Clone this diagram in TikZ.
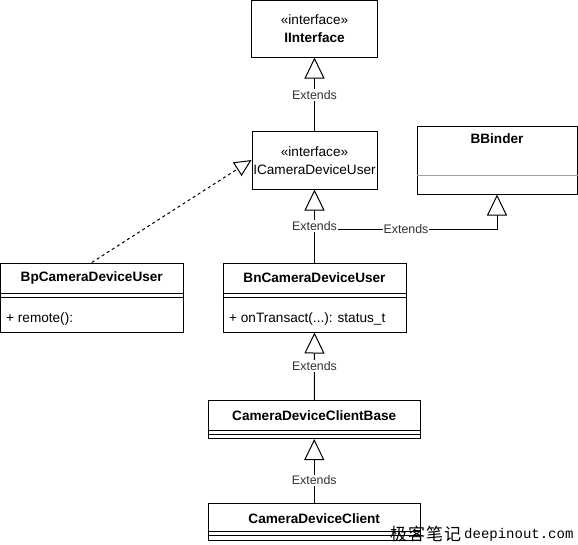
\documentclass[tikz,border=0pt]{standalone}
\usepackage{fontspec}
\setmainfont{Liberation Sans}
\newfontfamily\cjkwm{Noto Sans CJK SC}
\newfontfamily\monowm{Liberation Mono}
\usetikzlibrary{arrows.meta}
\definecolor{lblgray}{HTML}{333333}
\definecolor{sepgray}{HTML}{A0A0A0}
\tikzset{
  classbox/.style={draw=black, line width=1pt, inner sep=0pt, anchor=center},
  titletxt/.style={font=\fontsize{13.6}{16}\selectfont\bfseries, inner sep=0pt, anchor=center},
  plaintxt/.style={font=\fontsize{13.6}{16}\selectfont, inner sep=0pt, anchor=center},
  lbl/.style={font=\fontsize{12.4}{14}\selectfont, text=lblgray, fill=white, inner sep=1pt, anchor=center},
  ext/.style={draw=black, line width=1pt, -{Triangle[length=21pt,width=20pt,fill=white,line width=1pt]}},
  extline/.style={draw=black, line width=1pt},
  real/.style={draw=black, line width=1pt, dash pattern=on 3pt off 3pt, -{Triangle[length=17pt,width=16pt,fill=white,line width=1pt]}}
}
\begin{document}
\begin{tikzpicture}[x=1pt,y=-1pt]
\useasboundingbox (0,0) rectangle (578,544);
% boxes
\node[classbox, minimum width=126pt, minimum height=56.5pt] (ii) at (314.5,28.75) {};
\node[classbox, minimum width=125pt, minimum height=58pt] (icdu) at (314.5,160) {};
\node[classbox, minimum width=160pt, minimum height=68pt] (bb) at (497,160) {};
\node[classbox, minimum width=182.5pt, minimum height=69pt] (bp) at (91.75,297.5) {};
\node[classbox, minimum width=183pt, minimum height=69pt] (bn) at (314.5,297.5) {};
\node[classbox, minimum width=212.5pt, minimum height=38pt] (cdcb) at (314.25,419.5) {};
\node[classbox, minimum width=212.5pt, minimum height=37pt] (cdc) at (314.25,521.5) {};
% texts
\node[plaintxt] (iist) at (314.5,20) {«interface»};
\node[titletxt] (iit) at (314.5,37.5) {IInterface};
\node[plaintxt] (icdust) at (314.5,151.5) {«interface»};
\node[plaintxt] (icdut) at (314.5,169.5) {ICameraDeviceUser};
\node[titletxt] (bbt) at (497,138.5) {BBinder};
\draw[sepgray, line width=1pt] (bb.west |- 0,175) -- (bb.east |- 0,175);
\node[titletxt] (bpt) at (91.75,277.5) {BpCameraDeviceUser};
\draw[line width=1pt] (bp.west |- 0,293.3) -- (bp.east |- 0,293.3);
\draw[line width=1pt] (bp.west |- 0,297.7) -- (bp.east |- 0,297.7);
\node[plaintxt, anchor=west] (bpm) at (6,319) {+ remote():};
\node[titletxt] (bnt) at (314.5,277.5) {BnCameraDeviceUser};
\draw[line width=1pt] (bn.west |- 0,293.3) -- (bn.east |- 0,293.3);
\draw[line width=1pt] (bn.west |- 0,297.7) -- (bn.east |- 0,297.7);
\node[plaintxt, anchor=west] (bnm) at (229,319) {+ onTransact(...): status\_t};
\node[titletxt] (cdcbt) at (314.25,416) {CameraDeviceClientBase};
\draw[line width=1pt] (cdcb.west |- 0,430.2) -- (cdcb.east |- 0,430.2);
\draw[line width=1pt] (cdcb.west |- 0,434.4) -- (cdcb.east |- 0,434.4);
\node[titletxt] (cdct) at (314.25,519) {CameraDeviceClient};
\draw[line width=1pt] (cdc.west |- 0,531.2) -- (cdc.east |- 0,531.2);
\draw[line width=1pt] (cdc.west |- 0,535.2) -- (cdc.east |- 0,535.2);
% connectors
\draw[ext] (icdu.north) -- (ii.south);
\node[lbl] (l1) at (314.5,95) {Extends};
\coordinate (j) at (314.5,229);
\draw[extline] (bn.north) -- (j);
\draw[ext] (bn.north) -- (icdu.south);
\draw[ext] (j) -| (bb.south);
\node[lbl] (l2) at (314.5,226) {Extends};
\node[lbl] (l3) at (406,229) {Extends};
\draw[ext] (cdcb.north) -- (bn.south);
\node[lbl] (l4) at (314.5,366) {Extends};
\draw[ext] (cdc.north) -- (cdcb.south);
\node[lbl] (l5) at (314.25,480.5) {Extends};
\draw[real] (bp.north) -- (icdu.west);
% watermark
\node[font=\cjkwm\fontsize{17}{19}\selectfont, inner sep=0pt, anchor=west] (wm1) at (390,534) {极\kern1pt 客\kern1pt 笔\kern1pt 记};
\node[font=\monowm\fontsize{14}{16}\selectfont, inner sep=0pt, anchor=west] (wm2) at (464,535) {deepinout.com};
\end{tikzpicture}
\end{document}
